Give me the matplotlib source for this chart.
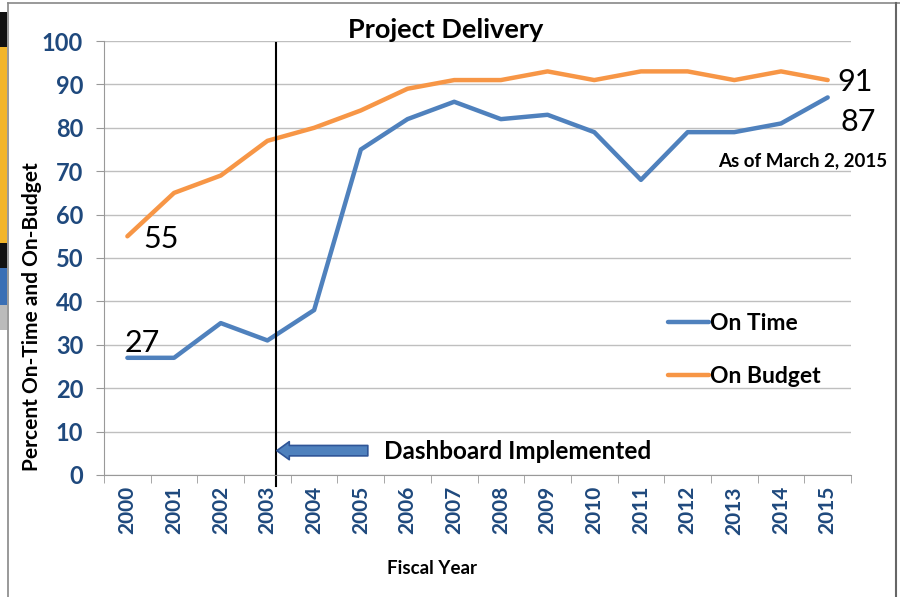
import matplotlib.pyplot as plt
from matplotlib.patches import Rectangle

plt.rcParams['font.family'] = ['Lato', 'DejaVu Sans']

years = ['2000', '2001', '2002', '2003', '2004', '2005', '2006', '2007',
         '2008', '2009', '2010', '2011', '2012', '2013', '2014', '2015']
on_time = [27, 27, 35, 31, 38, 75, 82, 86, 82, 83, 79, 68, 79, 79, 81, 87]
on_budget = [55, 65, 69, 77, 80, 84, 89, 91, 91, 93, 91, 93, 93, 91, 93, 91]

blue = '#4F81BD'
orange = '#F79646'
tick_blue = '#1F497D'

fig = plt.figure(figsize=(9, 5.97), dpi=100)
ax = fig.add_axes([0.1156, 0.2044, 0.83, 0.7269])

x = list(range(len(years)))
ax.plot(x, on_time, color=blue, lw=3.2, label='On Time', solid_capstyle='round')
ax.plot(x, on_budget, color=orange, lw=3.2, label='On Budget', solid_capstyle='round')

ax.set_xlim(-0.5, len(years) - 0.5)
ax.set_ylim(0, 100)
ax.set_yticks(range(0, 101, 10))
ax.set_xticks(x)
ax.set_xticklabels(years, rotation=90, fontsize=15, fontweight='bold', color=tick_blue)
ax.set_xticks([i - 0.5 for i in range(len(years) + 1)], minor=True)
ax.tick_params(axis='x', which='major', length=0, pad=8)
ax.tick_params(axis='x', which='minor', length=6, color='#999999', direction='out')
ax.tick_params(axis='y', length=6, color='#999999', pad=9,
               labelsize=17, labelcolor=tick_blue)
for lbl in ax.get_yticklabels():
    lbl.set_fontweight('bold')

ax.grid(axis='y', color='#BFBFBF', lw=1)
ax.set_axisbelow(True)
for s in ['top', 'right']:
    ax.spines[s].set_visible(False)
ax.spines['left'].set_color('#999999')
ax.spines['bottom'].set_color('#999999')

# dashboard line and arrow
ax.plot([3.18, 3.18], [-2.5, 99.5], color='black', lw=1.5, clip_on=False)
ax.annotate('', xy=(3.2, 5.6), xytext=(5.15, 5.6),
            arrowprops=dict(arrowstyle='simple,head_length=0.9,head_width=1.3,tail_width=0.75',
                            fc=blue, ec='#2F5597', lw=1.2, shrinkA=0, shrinkB=0))
ax.text(5.5, 5.4, 'Dashboard Implemented', fontsize=17.5, fontweight='bold',
        va='center', ha='left')

# value labels
ax.text(0.35, 54.4, str(on_budget[0]), fontsize=22, va='center', ha='left')
ax.text(-0.05, 27.2, str(on_time[0]), fontsize=22, va='bottom', ha='left')
ax.text(15.2, 90.6, str(on_budget[-1]), fontsize=22, va='center', ha='left')
ax.text(15.27, 81.4, str(on_time[-1]), fontsize=22, va='center', ha='left')
ax.text(14.46, 72.4, 'As of March 2, 2015', fontsize=13.5, fontweight='bold',
        va='center', ha='center')

ax.legend(loc='upper left', bbox_to_anchor=(0.727, 0.42), frameon=False,
          handlelength=1.8, handletextpad=0.05, labelspacing=1.38,
          prop=dict(size=16.5, weight='bold'))

fig.text(0.495, 0.95, 'Project Delivery', fontsize=19.5, fontweight='bold',
         ha='center', va='center')
fig.text(0.036, 0.47, 'Percent On-Time and On-Budget', fontsize=15,
         fontweight='bold', rotation=90, ha='center', va='center')
fig.text(0.48, 0.047, 'Fiscal Year', fontsize=13.5, fontweight='bold',
         ha='center', va='center')

# frame and left-edge screenshot remnants
fig.add_artist(plt.Line2D([8 / 900, 8 / 900], [0, 1 - 3 / 597], color='#888888', lw=1.2))
fig.add_artist(plt.Line2D([8 / 900, 1], [1 - 3 / 597, 1 - 3 / 597], color='#888888', lw=1.2))
fig.add_artist(plt.Line2D([896 / 900, 896 / 900], [0, 1 - 3 / 597], color='#666666', lw=1.5))
strips = [(12, 47, '#111111'), (47, 243, '#F2B52A'), (243, 268, '#111111'),
          (268, 305, '#3A6FB5'), (305, 330, '#BBBBBB')]
for y0, y1, c in strips:
    fig.add_artist(Rectangle((0, 1 - y1 / 597), 7 / 900, (y1 - y0) / 597,
                             transform=fig.transFigure, color=c, lw=0))

fig.savefig('out.png', dpi=100)
